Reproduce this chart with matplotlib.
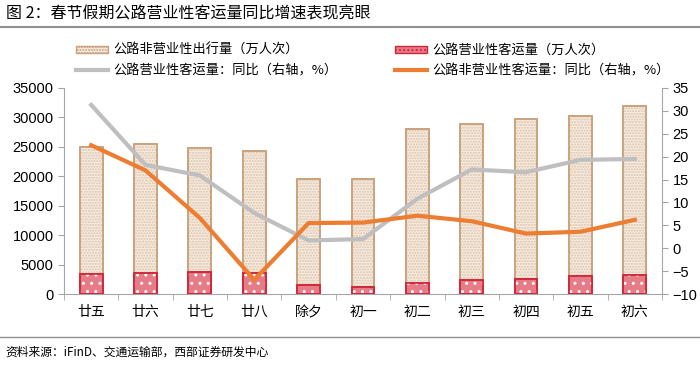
import numpy as np
import matplotlib.pyplot as plt
from matplotlib.patches import Patch
from matplotlib.lines import Line2D

plt.rcParams['font.family'] = ['Noto Sans CJK SC', 'DejaVu Sans']
plt.rcParams['hatch.linewidth'] = 1.0

days = ['廿五', '廿六', '廿七', '廿八', '除夕', '初一', '初二', '初三', '初四', '初五', '初六']
fei_yingye = [24900, 25400, 24800, 24300, 19500, 19600, 28000, 28800, 29700, 30300, 31900]
yingye = [3450, 3560, 3680, 3500, 1470, 1130, 1870, 2430, 2600, 3000, 3230]
yingye_yoy = [31.3, 18.2, 15.9, 7.7, 1.7, 2.0, 10.8, 17.2, 16.6, 19.3, 19.5]
fei_yingye_yoy = [22.5, 17.0, 6.6, -6.9, 5.5, 5.6, 7.1, 5.9, 3.2, 3.6, 6.2]

tan_edge = '#c9a27e'
tan_face = '#f6ebe0'
red_face = '#e57d88'
red_edge = '#d0283a'
gray_line = '#bfbfbf'
orange_line = '#ed7d31'
axis_col = '#a6a6a6'

fig = plt.figure(figsize=(7, 3.66), dpi=100)
ax = fig.add_axes([0.0914, 0.1967, 0.8543, 0.5629])
x = np.arange(len(days))
w = 0.42

# tan bars
ax.bar(x, fei_yingye, w, color=tan_face, edgecolor=tan_edge, linewidth=1.2, zorder=2)
ax.bar(x, fei_yingye, w, fill=False, edgecolor='#dcc3ab', hatch='......', linewidth=0, zorder=2)
ax.bar(x, fei_yingye, w, fill=False, edgecolor=tan_edge, linewidth=1.2, zorder=2)
# red bars
ax.bar(x, yingye, w, color=red_face, edgecolor=red_edge, linewidth=1.2, zorder=3)
ax.bar(x, yingye, w, fill=False, edgecolor='white', hatch='..', linewidth=0, zorder=3)
ax.bar(x, yingye, w, fill=False, edgecolor=red_edge, linewidth=1.2, zorder=3)

ax.set_xlim(-0.5, len(days) - 0.5)
ax.set_ylim(0, 35000)
ax.set_yticks(np.arange(0, 35001, 5000))
ax.set_xticks(x)
ax.set_xticklabels(days, fontsize=10)
ax.set_xticks(np.arange(-0.5, len(days), 1), minor=True)
ax.tick_params(axis='x', which='major', length=0, pad=8)
ax.tick_params(axis='x', which='minor', length=4, color=axis_col, direction='out')
ax.tick_params(axis='y', length=4, color=axis_col, labelsize=10.5)
for lbl in ax.get_yticklabels():
    lbl.set_fontfamily('Liberation Sans')
for s in ['top', 'right']:
    ax.spines[s].set_visible(False)
for s in ['left', 'bottom']:
    ax.spines[s].set_color(axis_col)

ax2 = ax.twinx()
ax2.plot(x, yingye_yoy, color=gray_line, lw=3, zorder=4)
ax2.plot(x, fei_yingye_yoy, color=orange_line, lw=3, zorder=5)
ax2.set_ylim(-10, 35)
ax2.set_yticks(np.arange(-10, 36, 5))
ax2.tick_params(axis='y', length=4, color=axis_col, labelsize=10.5)
for lbl in ax2.get_yticklabels():
    lbl.set_fontfamily('Liberation Sans')
for s in ['top', 'left', 'bottom']:
    ax2.spines[s].set_visible(False)
ax2.spines['right'].set_color(axis_col)

# legend, two columns placed separately
leg_kw = dict(loc='upper left', frameon=False, fontsize=9.5, handlelength=2.4,
              handleheight=0.5, handletextpad=0.45, labelspacing=0.55,
              borderpad=0, borderaxespad=0)
leg1 = fig.legend([Patch(facecolor=tan_face, edgecolor=tan_edge, hatch='......'),
                   Line2D([0], [0], color=gray_line, lw=3)],
                  ['公路非营业性出行量（万人次）', '公路营业性客运量：同比（右轴，%）'],
                  bbox_to_anchor=(76 / 700, 1 - 44 / 366), **leg_kw)
leg2 = fig.legend([Patch(facecolor=red_face, edgecolor=red_edge, hatch='....'),
                   Line2D([0], [0], color=orange_line, lw=3)],
                  ['公路营业性客运量（万人次）', '公路非营业性客运量：同比（右轴，%）'],
                  bbox_to_anchor=(395 / 700, 1 - 44 / 366), **leg_kw)

fig.text(0.008, 0.962, '图 2：春节假期公路营业性客运量同比增速表现亮眼', fontsize=11.5,
         va='center', ha='left')
fig.add_artist(Line2D([0, 1], [0.925, 0.925], color='#909090', lw=1.5, transform=fig.transFigure))
fig.add_artist(Line2D([0, 1], [0.08, 0.08], color='#909090', lw=1.0, transform=fig.transFigure))
fig.text(0.008, 0.038, '资料来源：iFinD、交通运输部，西部证券研发中心', fontsize=8.5,
         va='center', ha='left')

fig.savefig('out.png', dpi=100)
